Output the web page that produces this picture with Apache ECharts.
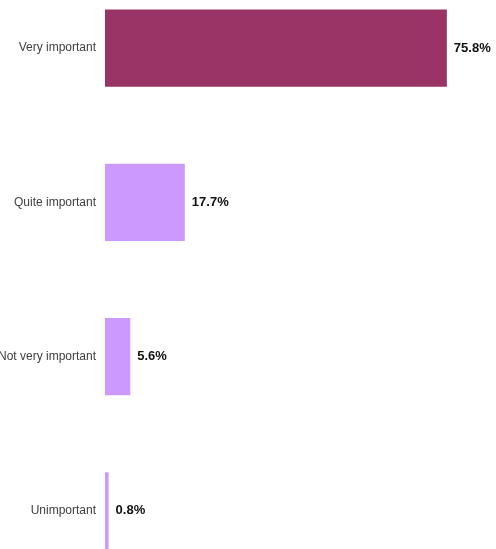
<!DOCTYPE html>
<html>
<head>
<meta charset="utf-8">
<style>
  html, body { margin: 0; padding: 0; background: #ffffff; overflow: hidden; }
  #wrap { position: relative; width: 496px; height: 549px; overflow: hidden; }
  /* The plot is taller than the window so the outer bands run past the edges */
  #chart { position: absolute; left: 0; top: -28.7px; width: 496px; height: 617.4px; }
</style>
<script src="https://cdn.jsdelivr.net/npm/echarts@6/dist/echarts.min.js"></script>
</head>
<body>
<div id="wrap"><div id="chart"></div></div>
<script>
// Survey answers and their share of respondents (%)
const categories = ['Very important', 'Quite important', 'Not very important', 'Unimportant'];
const shares = [75.8, 17.7, 5.6, 0.8];
const barColors = ['#993366', '#cc99ff', '#cc99ff', '#cc99ff'];

const chart = echarts.init(document.getElementById('chart'), null, { renderer: 'canvas' });

chart.setOption({
  animation: false,
  backgroundColor: '#ffffff',
  grid: { left: 105, right: 30.2, top: 0, bottom: 0, containLabel: false, outerBoundsMode: 'none' },
  xAxis: {
    type: 'value',
    min: 0,
    max: 80,
    show: false
  },
  yAxis: {
    type: 'category',
    inverse: true,
    data: categories,
    axisLine: { show: false },
    axisTick: { show: false },
    axisLabel: {
      margin: 9,
      color: '#404040',
      fontFamily: 'Liberation Sans, Arial, sans-serif',
      fontSize: 12
    }
  },
  series: [{
    type: 'bar',
    barCategoryGap: '50%',
    data: shares.map((v, i) => ({ value: v, itemStyle: { color: barColors[i] } })),
    label: {
      show: true,
      position: 'right',
      distance: 7,
      formatter: p => p.value.toFixed(1) + '%',
      color: '#111111',
      fontFamily: 'Liberation Sans, Arial, sans-serif',
      fontWeight: 'bold',
      fontSize: 13
    }
  }]
});
</script>
</body>
</html>
